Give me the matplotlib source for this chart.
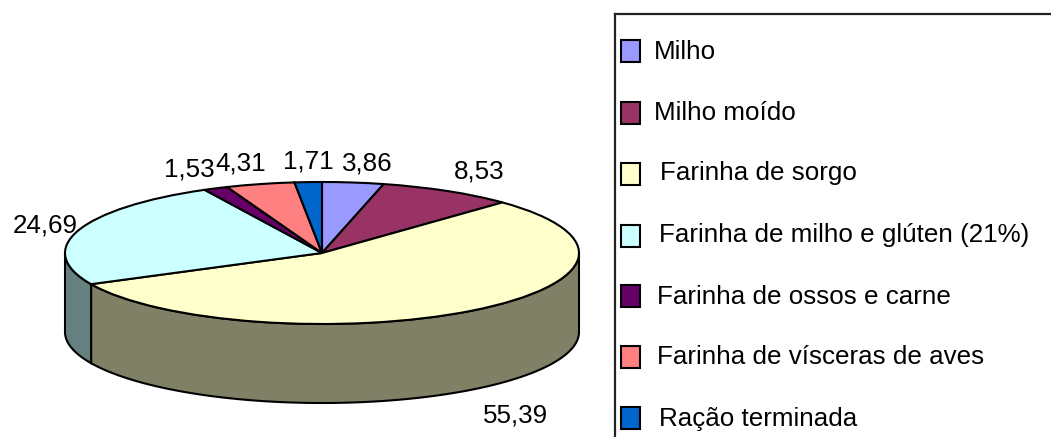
import numpy as np
import matplotlib
matplotlib.use("Agg")
import matplotlib.pyplot as plt
from matplotlib.patches import Rectangle

plt.rcParams['font.family'] = ['Liberation Sans', 'DejaVu Sans']

categories = ["Milho", "Milho moído", "Farinha de sorgo", "Farinha de milho e glúten (21%)",
              "Farinha de ossos e carne", "Farinha de vísceras de aves", "Ração terminada"]
values = [3.86, 8.53, 55.39, 24.69, 1.53, 4.31, 1.71]
value_labels = ["3,86", "8,53", "55,39", "24,69", "1,53", "4,31", "1,71"]
colors = ["#9999FF", "#993366", "#FFFFCC", "#CCFFFF", "#660066", "#FF8080", "#0066CC"]
wall_colors = ["#4C4C80", "#4C1933", "#808066", "#668080", "#330033", "#804040", "#003366"]

# layout (pixels)
W, H = 1051, 437
CX, CY, RX, RY, DEPTH = 322, 253, 257, 71, 79
label_xy = [(367, 163), (479, 172), (515, 416), (45, 226), (189, 169), (241, 163), (308, 161)]
legend_y = [51, 112.5, 173.5, 235.5, 295.5, 356.5, 417.5]
legend_ty = [52, 113, 173, 235, 297, 357, 419]
legend_tx = [654, 654, 660, 659, 657, 657, 659]
FS = 18.7

fig = plt.figure(figsize=(W / 100, H / 100), dpi=100, facecolor="white")
ax = fig.add_axes([0, 0, 1, 1])

wedges, _ = ax.pie(values, colors=colors, startangle=90, counterclock=False, radius=1,
                   wedgeprops=dict(edgecolor="black", linewidth=1.5, zorder=3))
ax.set_aspect("auto")

# side wall of the pie, from the slice angles
total = sum(values)
cum = np.cumsum([0] + values)
dz = DEPTH / RY
for i in range(len(values)):
    a0 = 90 - cum[i] * 360 / total
    a1 = 90 - cum[i + 1] * 360 / total
    # keep the visible front half (-180..0)
    hi, lo = min(a0, 0), max(a1, -180)
    if hi <= lo:
        continue
    th = np.radians(np.linspace(hi, lo, 120))
    xs = np.r_[np.cos(th), np.cos(th[::-1])]
    ys = np.r_[np.sin(th), np.sin(th[::-1]) - dz]
    ax.fill(xs, ys, facecolor=wall_colors[i], edgecolor="black", linewidth=1.5, zorder=2)
ax.set_xlim((0 - CX) / RX, (W - CX) / RX)
ax.set_ylim((CY - H) / RY, CY / RY)

# overlay in pixel coordinates for labels and legend
ov = fig.add_axes([0, 0, 1, 1], facecolor="none")
ov.set_xlim(0, W)
ov.set_ylim(H, 0)
ov.axis("off")

for (x, y), t in zip(label_xy, value_labels):
    ov.text(x, y, t, ha="center", va="center", fontsize=FS, color="black")

ov.plot([615, 615], [H, 14], color="#222222", lw=1.6, solid_capstyle="projecting")
ov.plot([615, W], [14, 14], color="#222222", lw=1.6, solid_capstyle="projecting")

for y, ty, tx, c, name in zip(legend_y, legend_ty, legend_tx, colors, categories):
    ov.add_patch(Rectangle((621, y - 11), 19, 22, facecolor=c, edgecolor="black", linewidth=1.5))
    ov.text(tx, ty, name, ha="left", va="center", fontsize=FS, color="black")

fig.savefig("out.png", dpi=100, facecolor="white")
